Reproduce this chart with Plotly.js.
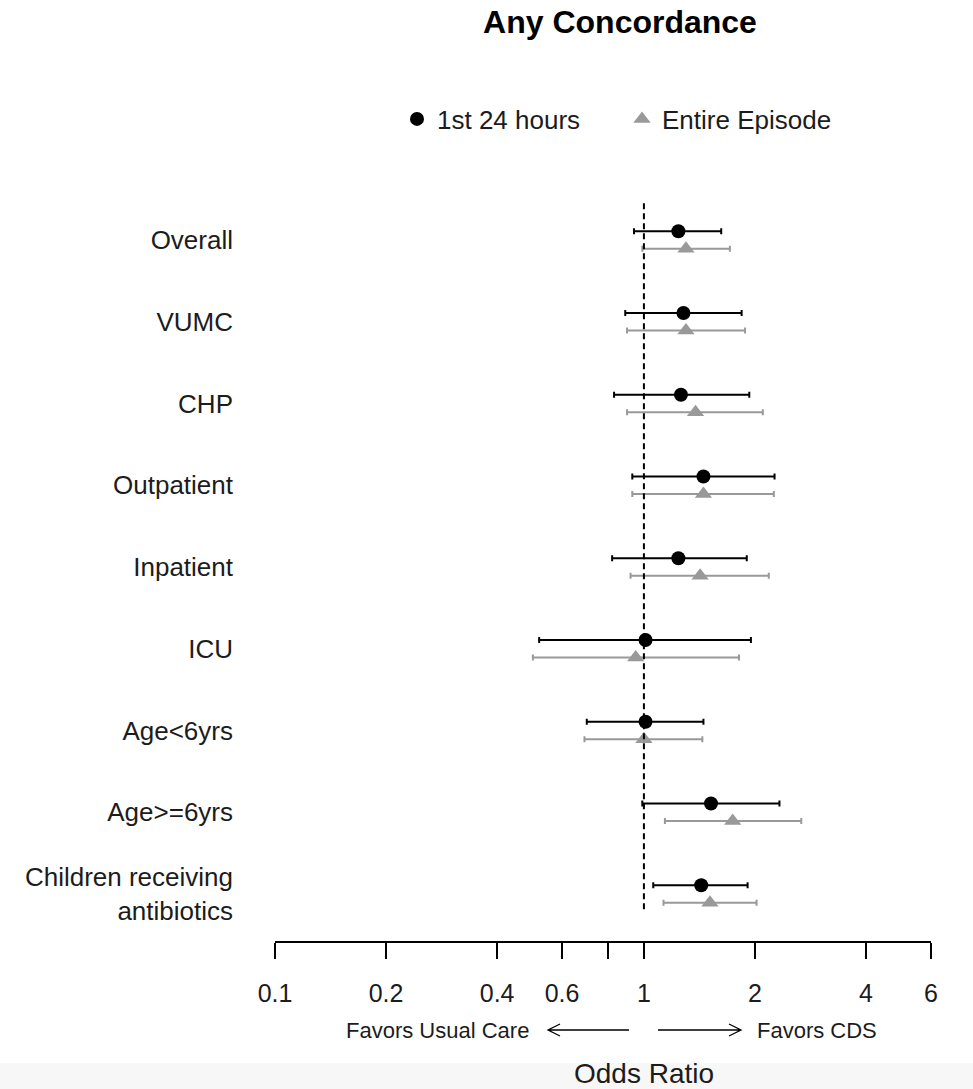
<!DOCTYPE html>
<html>
<head>
<meta charset="utf-8">
<script src="https://cdn.plot.ly/plotly-3.0.1.min.js"></script>
<style>html,body{margin:0;padding:0;background:#fff;}#chart{width:973px;height:1089px;}</style>
</head>
<body>
<div id="chart"></div>
<script>
// Categories (top to bottom)
const categories = ["Overall", "VUMC", "CHP", "Outpatient", "Inpatient", "ICU",
  "Age<6yrs", "Age>=6yrs", "Children receiving<br>antibiotics"];

// 1st 24 hours: odds ratio and 95% CI
const or24 = [1.24, 1.28, 1.26, 1.45, 1.24, 1.01, 1.01, 1.52, 1.43];
const lo24 = [0.94, 0.89, 0.83, 0.93, 0.82, 0.52, 0.70, 0.99, 1.06];
const hi24 = [1.62, 1.84, 1.93, 2.26, 1.90, 1.95, 1.45, 2.33, 1.91];

// Entire Episode: odds ratio and 95% CI
const orEp = [1.30, 1.30, 1.38, 1.45, 1.42, 0.95, 1.00, 1.74, 1.51];
const loEp = [0.99, 0.90, 0.90, 0.93, 0.92, 0.50, 0.69, 1.14, 1.13];
const hiEp = [1.71, 1.88, 2.10, 2.25, 2.18, 1.81, 1.44, 2.67, 2.02];

// X tick values / labels
const xTickVals = [0.1, 0.2, 0.4, 0.6, 0.8, 1, 2, 4, 6];
const xTickText = ["0.1", "0.2", "0.4", "0.6", "", "1", "2", "4", "6"];

const FONT = "Liberation Sans, Arial, Helvetica, sans-serif";
const TXT = "#1c1c1c";
const GRAY = "#999999";

const idx = categories.map((_, i) => i);
const OFF = 0.107;

const trace24 = {
  type: "scatter", mode: "markers", name: "1st 24 hours",
  x: or24, y: idx.map(i => i - OFF),
  marker: {symbol: "circle", size: 14, color: "black"},
  error_x: {type: "data", symmetric: false,
    array: or24.map((v, i) => hi24[i] - v),
    arrayminus: or24.map((v, i) => v - lo24[i]),
    color: "black", thickness: 2, width: 3},
  hoverinfo: "x"
};
const traceEp = {
  type: "scatter", mode: "markers", name: "Entire Episode",
  x: orEp, y: idx.map(i => i + OFF),
  marker: {symbol: "triangle-up", size: 15, color: GRAY},
  error_x: {type: "data", symmetric: false,
    array: orEp.map((v, i) => hiEp[i] - v),
    arrayminus: orEp.map((v, i) => v - loEp[i]),
    color: GRAY, thickness: 2, width: 3},
  hoverinfo: "x"
};

// plot area geometry (pixels) for paper-coordinate helpers
const L = 275, R = 931, T = 160, B = 941;
const px = p => (p - L) / (R - L);
const py = p => (B - p) / (B - T);

const arrowY = 1030;
const shapes = [
  {type: "rect", xref: "paper", yref: "paper", x0: px(0), x1: px(973), y0: py(1089), y1: py(1063),
    fillcolor: "#f7f7f7", line: {width: 0}, layer: "below"},
  {type: "line", xref: "x", yref: "y", x0: 1, x1: 1, y0: -0.45, y1: 8.2,
    line: {color: "black", width: 2, dash: "6px,4px"}},
  {type: "path", xref: "paper", yref: "paper",
    path: `M ${px(629)},${py(arrowY)} L ${px(548)},${py(arrowY)} M ${px(560)},${py(arrowY-6)} L ${px(548)},${py(arrowY)} L ${px(560)},${py(arrowY+6)}`,
    line: {color: "black", width: 1.3}},
  {type: "path", xref: "paper", yref: "paper",
    path: `M ${px(658)},${py(arrowY)} L ${px(741)},${py(arrowY)} M ${px(729)},${py(arrowY-6)} L ${px(741)},${py(arrowY)} L ${px(729)},${py(arrowY+6)}`,
    line: {color: "black", width: 1.3}}
];

const annotations = [
  {text: "Favors Usual Care", xref: "paper", yref: "paper", x: px(531), y: py(arrowY),
    xanchor: "right", yanchor: "middle", showarrow: false, font: {family: FONT, size: 22, color: TXT}},
  {text: "Favors CDS", xref: "paper", yref: "paper", x: px(755), y: py(arrowY),
    xanchor: "left", yanchor: "middle", showarrow: false, font: {family: FONT, size: 22, color: TXT}},
  {text: "Odds Ratio", xref: "paper", yref: "paper", x: px(644), y: py(1073),
    xanchor: "center", yanchor: "middle", showarrow: false, font: {family: FONT, size: 28, color: TXT}}
];

const layout = {
  width: 973, height: 1089,
  margin: {l: L, r: 973 - R, t: T, b: 1089 - B},
  paper_bgcolor: "white", plot_bgcolor: "white",
  font: {family: FONT, color: TXT},
  title: {text: "<b>Any Concordance</b>", x: px(620), xref: "paper", xanchor: "center",
    y: 1 - 22 / 1089, yref: "container", yanchor: "middle",
    font: {family: FONT, size: 32, color: "black"}},
  showlegend: true,
  legend: {orientation: "h", x: px(397), y: py(119), xanchor: "left", yanchor: "middle",
    entrywidth: 180, entrywidthmode: "pixels",
    font: {family: FONT, size: 26, color: TXT}, bgcolor: "rgba(0,0,0,0)"},
  xaxis: {type: "log", range: [Math.log10(0.1), Math.log10(6)],
    tickvals: xTickVals, ticktext: xTickText,
    showline: true, linecolor: "black", linewidth: 1.5, mirror: false,
    ticks: "outside", ticklen: 16, tickwidth: 1.5, tickcolor: "black",
    showgrid: false, zeroline: false, ticklabelstandoff: 13,
    tickfont: {family: FONT, size: 25, color: TXT}, fixedrange: true},
  yaxis: {range: [(B - 240) / 81.75, (T - 240) / 81.75],
    tickvals: idx, ticktext: categories,
    showline: false, ticks: "", showgrid: false, zeroline: false,
    ticklabelstandoff: 41,
    tickfont: {family: FONT, size: 26, color: TXT}, fixedrange: true},
  shapes: shapes,
  annotations: annotations
};

Plotly.newPlot("chart", [trace24, traceEp], layout, {displayModeBar: false, staticPlot: true});
</script>
</body>
</html>
